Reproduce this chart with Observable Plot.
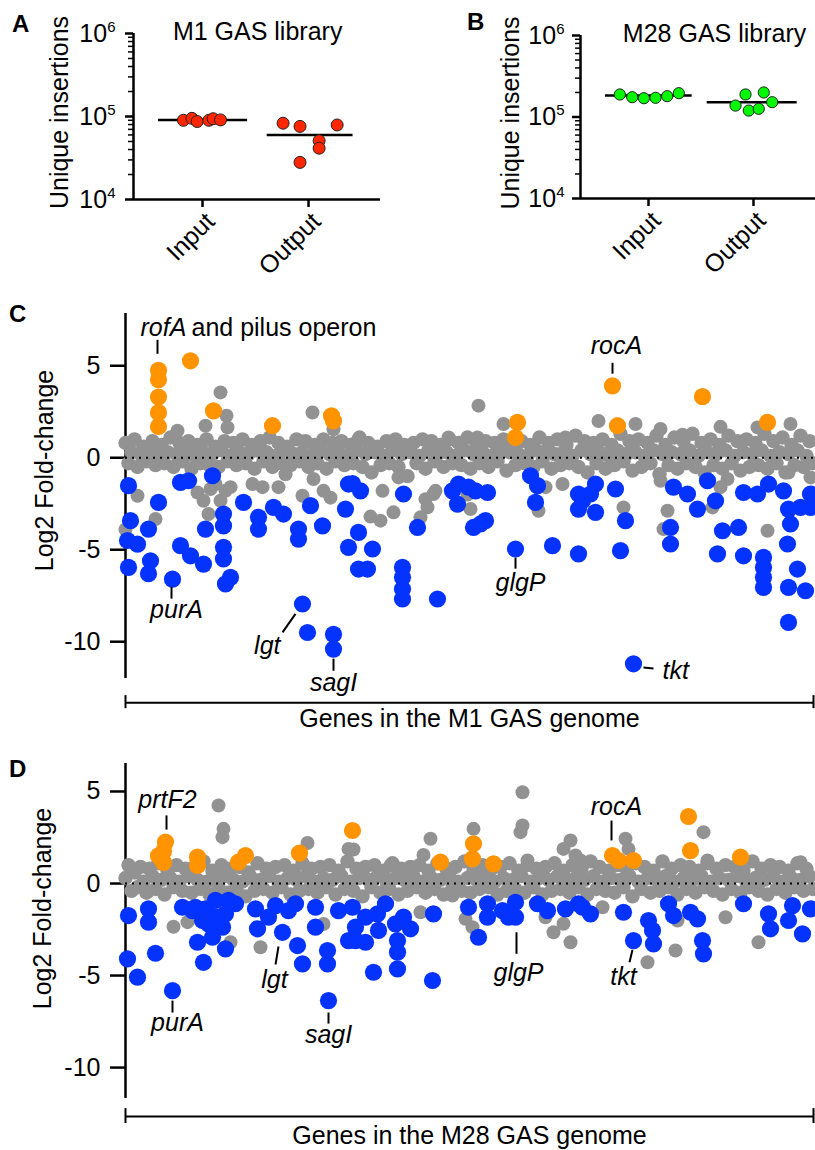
<!DOCTYPE html>
<html><head><meta charset="utf-8">
<script src="https://cdn.jsdelivr.net/npm/d3@7"></script>
<script src="https://cdn.jsdelivr.net/npm/@observablehq/plot@0.6"></script>
<style>
body{margin:0;background:#fff;}
#fig{position:relative;width:815px;height:1150px;overflow:hidden;font-family:"Liberation Sans",Arial,Helvetica,sans-serif;color:#000;}
.panel{position:absolute;}
.letter{position:absolute;font-weight:bold;font-size:24px;line-height:24px;}
</style></head><body><div id="fig"></div>
<script>
// ---------- Panels A & B: unique insertions ----------
const groups = ["Input", "Output"];
const majorTicks = [1e4, 1e5, 1e6];
const minorTicks = [2e4,3e4,4e4,5e4,6e4,7e4,8e4,9e4,2e5,3e5,4e5,5e5,6e5,7e5,8e5,9e5];

const m1Input = [9.0e4, 9.5e4, 8.7e4, 9.0e4, 9.4e4, 9.1e4];
const m1InputPos = [0.82, 0.90, 0.95, 1.06, 1.10, 1.17];
const m1Output = [8.3e4, 7.6e4, 7.9e4, 5.1e4, 4.15e4, 2.8e4];
const m1OutputPos = [1.76, 1.92, 2.27, 2.10, 2.10, 1.92];
const m1Medians = [9.1e4, 6.0e4];
const m1MedianSpan = [[0.585, 1.425], [1.61, 2.42]];

const m28Input = [1.89e5, 1.75e5, 1.70e5, 1.72e5, 1.80e5, 1.96e5];
const m28InputPos = [0.727, 0.845, 0.956, 1.067, 1.178, 1.289];
const m28Output = [1.38e5, 1.89e5, 1.20e5, 1.26e5, 2.0e5, 1.52e5];
const m28OutputPos = [1.829, 1.924, 1.955, 2.05, 2.098, 2.178];
const m28Medians = [1.84e5, 1.52e5];
const m28MedianSpan = [[0.59, 1.416], [1.559, 2.416]];

// ---------- Panel C: M1 genome log2 fold-change (gene position, value) ----------
const bandC = [
0.8,-0.3,0.3,1.0,-0.5,0.2,0.6,-0.2,0.4,0.9,
-0.4,0.1,0.7,-0.3,0.3,1.1,-0.5,0.2,0.8,-0.2,
0.4,0.9,-0.6,0.1,0.7,-0.3,0.3,1.0,-0.4,0.2,
0.6,-0.5,0.4,0.9,-0.2,0.1,0.8,-0.4,0.3,1.0,
-0.3,0.2,0.7,-0.6,0.4,0.9,-0.2,0.3,1.1,-0.5,
0.1,0.8,-0.3,0.4,0.6,-0.4,0.2,1.0,-0.2,0.3,
0.9,-0.5,0.1,0.7,-0.3,0.4,1.0,-0.6,0.2,0.8,
-0.2,0.3,0.9,-0.4,0.1,0.7,-0.3,0.4,1.1,-0.5,
0.2,0.8,-0.8,0.3,0.6,-0.4,0.1,0.9,-0.3,0.4,
1.0,-0.5,0.2,0.7,-1.0,0.3,0.8,-0.3,0.1,1.0,
-0.6,0.4,0.9,-0.2,0.2,0.7,-0.5,0.3,1.0,-0.3,
0.1,0.8,-0.4,0.4,1.1,-0.6,0.2,0.7,-0.3,0.3,
0.9,-0.5,0.1,0.8,-0.2,0.4,1.0,-0.7,0.3,0.6,
-0.4,0.2,0.9,-0.3,0.1,0.7,-0.5,0.4,1.1,-0.2,
0.3,0.8,-0.6,0.2,1.0,-0.4,0.3,0.7,-0.3,0.1,
1.2,-0.5,0.4,0.9,-0.8,0.2,0.8,-0.3,0.3,1.0,
-0.6,0.1,0.7,-0.4,0.4,1.3,-0.2,0.2,0.9,-0.7,
0.3,1.0,-0.5,0.1,0.8,-0.3,0.4,1.2,-0.9,0.2,
0.7,-0.4,0.3,1.1,-0.6,0.2,0.9,-0.3,0.4,1.3,
-0.5,0.1,0.8,-0.8,0.3,1.0,-0.4,0.2,0.7,-0.6,
0.4,1.2,-0.3,0.1,0.9,-0.7,0.3,1.0,-0.5,0.2,
0.8,-0.4,0.4,1.3,-0.6,0.1,0.9,-0.3,0.3,1.1,
-0.8,0.2,0.7,-0.4,0.4,1.2,-0.5,0.1,0.9,-0.3];
const grayC = [[95,3.55],[101,2.28],[80,1.74],[102,1.65],[187,2.46],[52,1.47],[208,1.55],[12,-2.07],[30,-3.33],[0,-3.9],[72,-1.89],[78,-2.34],[83,-3.06],[85,-1.7],[95,-2.34],[100,-1.8],[105,-1.6],[90,-1.43],[127,-1.43],[137,-1.6],[153,-1.6],[160,-0.9],[177,-2.07],[188,-1.16],[198,-1.8],[205,-2.17],
[353,2.83],[378,1.83],[323,1.1],[352,1.1],[232,0.92],[440,1.1],[245,-3.2],[255,-3.42],[268,-2.97],[257,-1.8],[273,-1.07],[300,-2.25],[302,-2.7],[295,-3.24],[310,-1.8],[308,-1.97],[345,-2.79],[342,-2.0],[413,-2.88],[437,-1.43],[420,-1.6],
[473,2.0],[510,1.83],[535,1.56],[595,1.68],[557,1.25],[665,1.83],[632,1.65],[498,-2.7],[642,-3.97],[542,-2.88],[538,-3.88],[587,-2.7],[535,-1.25],[595,-1.6],[602,-1.16],[663,-0.8],[685,-1.07]];
const orangeC = [[33,4.75],[33,4.25],[33,3.3],[33,2.45],[33,1.7],[65,5.27],[88,2.55],[147,1.74],[206,2.28],[208,2.0],[392,1.92],[390,1.1],[487,3.91],[492,1.74],[577,3.32],[642,1.92]];
const blueC = [[3,-1.52],[33,-2.43],[5,-3.42],[23,-3.88],[2,-4.5],[12,-4.7],[25,-5.6],[3,-5.96],[23,-6.3],[47,-6.6],[55,-1.34],[63,-1.25],[87,-0.98],[55,-4.78],[65,-5.33],[78,-5.78],[80,-3.88],[98,-3.06],[98,-3.7],[98,-4.87],[98,-5.5],[105,-6.5],[100,-6.86],[118,-2.43],[133,-3.24],[133,-3.88],[148,-2.7],[158,-3.06],[173,-3.88],[173,-4.42],[185,-2.6],[197,-3.7],[223,-1.43],[220,-2.79],[223,-4.87],[177,-7.95],[182,-9.5],[208,-9.6],[208,-10.4],
[227,-1.4],[235,-1.8],[233,-4.06],[247,-4.96],[233,-6.05],[242,-6.05],[278,-1.97],[292,-3.79],[277,-5.96],[277,-6.5],[277,-7.14],[277,-7.68],[312,-7.68],[333,-1.43],[327,-1.8],[343,-1.6],[350,-1.8],[362,-1.89],[332,-2.52],[348,-3.79],[360,-3.42],[355,-3.6],[390,-4.96],[405,-0.98],[412,-1.52],[410,-2.43],[427,-4.78],[453,-1.97],[453,-2.79],[453,-5.23],
[470,-1.43],[465,-1.97],[470,-2.97],[457,-2.34],[490,-1.7],[500,-3.42],[495,-5.05],[548,-1.6],[562,-1.97],[572,-2.79],[582,-1.25],[590,-2.34],[545,-3.79],[545,-4.69],[597,-3.97],[613,-3.79],[592,-5.23],[618,-5.33],[618,-1.89],[632,-1.97],[643,-1.43],[658,-1.8],[663,-2.79],[675,-2.7],[685,-1.97],[685,-2.7],[665,-3.6],[662,-4.69],[638,-5.42],[638,-5.96],[638,-6.5],[638,-7.05],[672,-6.05],[663,-7.05],[680,-7.23],[663,-8.95],[508,-11.2]];
const labelsC = [
  {text:"rofA", x:15, y:6.63, anchor:"start", italic:true},
  {text:"and pilus operon", x:66, y:6.63, anchor:"start", italic:false},
  {text:"purA", x:51, y:-8.7, anchor:"middle", italic:true},
  {text:"lgt", x:155, y:-10.65, anchor:"end", italic:true},
  {text:"sagI", x:208, y:-12.66, anchor:"middle", italic:true},
  {text:"glgP", x:395, y:-7.23, anchor:"middle", italic:true},
  {text:"rocA", x:491, y:5.65, anchor:"middle", italic:true},
  {text:"tkt", x:537, y:-12.01, anchor:"start", italic:true}];
const linksC = [[32,6.41,32,5.65],[46,-7.01,46,-7.66],[157,-9.49,170,-8.49],[208,-10.92,208,-11.58],[390,-5.43,390,-6.03],[487,5.16,487,4.57],[518,-11.4,528,-11.45]];

// ---------- Panel D: M28 genome ----------
const bandD = [
0.3,1.0,-0.4,0.6,-0.2,0.9,0.1,-0.5,0.8,0.4,
-0.3,1.1,0.2,-0.6,0.7,0.3,-0.2,1.0,0.1,-0.4,
0.8,0.4,-0.5,0.9,0.2,-0.3,1.2,0.1,-0.6,0.7,
0.3,-0.2,1.0,0.4,-0.5,0.8,0.2,-0.3,0.9,0.1,
-0.7,0.6,0.3,-0.4,1.1,0.2,-0.3,0.8,0.4,-0.5,
0.9,0.1,-0.2,1.0,0.3,-0.6,0.7,0.2,-0.4,1.1,
0.4,-0.3,0.8,0.1,-0.5,0.9,0.3,-0.2,1.0,0.2,
-0.6,0.7,0.4,-0.3,1.2,0.1,-0.4,0.8,0.3,-0.7,
0.9,0.2,-0.2,1.0,0.4,-0.5,0.7,0.1,-0.3,1.1,
0.3,-0.6,0.8,0.2,-0.4,0.9,0.4,-0.2,1.0,0.1,
-0.5,0.7,0.3,-0.3,1.1,0.2,-0.6,0.8,0.4,-0.2,
0.9,0.1,-0.4,1.2,0.3,-0.5,0.7,0.2,-0.3,1.0,
0.4,-0.2,0.8,0.1,-0.6,0.9,0.3,-0.4,1.1,0.2,
-0.3,0.7,0.4,-0.5,1.0,0.1,-0.2,0.8,0.3,-0.6,
0.9,0.2,-0.4,1.1,0.4,-0.3,0.7,0.1,-0.5,1.0,
0.3,-0.2,0.8,0.2,-0.6,1.2,0.4,-0.3,0.9,0.1,
-0.4,0.7,0.3,-0.5,1.0,0.2,-0.2,0.8,0.4,-0.7,
1.1,0.1,-0.3,0.9,0.3,-0.5,0.7,0.2,-0.4,1.2,
0.4,-0.2,0.8,0.1,-0.6,1.0,0.3,-0.3,0.9,0.2,
-0.5,0.7,0.4,-0.2,1.1,0.1,-0.4,0.8,0.3,-0.6,
1.0,0.2,-0.3,0.9,0.4,-0.5,0.7,0.1,-0.2,1.2,
0.3,-0.4,0.8,0.2,-0.6,1.0,0.4,-0.3,0.9,0.1,
-0.5,0.7,0.3,-0.2,1.1,0.2,-0.4,0.8,0.4,-0.3];
const grayD = [[93,4.24],[98,2.97],[97,2.52],[182,2.2],[223,1.88],[228,1.85],[135,-3.46],[48,-2.35],[62,-2.1],[105,-3.19],[198,-2.2],
[305,2.43],[298,1.55],[348,2.97],[397,4.96],[397,3.15],[395,2.79],[445,2.34],[438,1.88],[450,1.52],[402,1.25],[265,0.98],[327,-0.65],[347,-2.37],[340,-1.92],[428,-2.65],[445,-3.19],[420,-1.83],[438,-2.19],[295,-1.56],
[500,2.43],[503,1.88],[578,2.79],[582,1.25],[455,1.25],[675,1.16],[477,-1.29],[552,-2.01],[522,-4.28],[550,-3.64],[600,-1.83],[633,-3.19]];
const orangeD = [[40,2.25],[38,1.75],[33,1.5],[38,1.15],[72,1.43],[72,0.98],[120,1.52],[113,1.16],[174,1.65],[227,2.88],[315,1.16],[348,2.16],[347,1.34],[368,1.07],[487,1.52],[493,1.25],[508,1.25],[563,3.64],[565,1.79],[615,1.43]];
const blueD = [[3,-1.74],[23,-1.38],[23,-2.1],[2,-4.09],[12,-5.09],[30,-3.79],[47,-5.82],[57,-1.29],[70,-1.29],[67,-1.47],[80,-1.38],[90,-0.92],[90,-1.83],[103,-0.92],[110,-1.1],[100,-1.65],[83,-2.19],[77,-2.01],[97,-2.37],[72,-3.19],[87,-2.92],[78,-4.28],[100,-3.55],[130,-1.38],[132,-2.46],[143,-1.83],[150,-1.2],[157,-2.65],[163,-1.47],[170,-1.1],[172,-3.37],[177,-4.37],[190,-1.29],[190,-2.37],[202,-3.64],[202,-4.37],[203,-6.36],[213,-1.47],[223,-3.1],
[227,-1.29],[240,-1.83],[230,-2.37],[230,-3.1],[240,-3.19],[252,-1.65],[260,-1.1],[253,-2.55],[270,-2.19],[278,-1.83],[285,-2.46],[272,-3.1],[272,-3.73],[272,-4.64],[248,-4.82],[307,-5.27],[308,-1.65],[343,-1.29],[362,-1.1],[362,-1.83],[353,-2.92],[377,-1.47],[390,-1.02],[390,-1.83],[383,-1.83],[412,-1.1],[422,-1.47],[440,-1.38],[453,-1.1],
[465,-1.65],[457,-1.29],[498,-1.56],[508,-3.1],[523,-2.01],[527,-2.55],[528,-3.28],[543,-1.1],[548,-1.74],[565,-1.56],[572,-1.92],[577,-3.1],[578,-3.82],[618,-1.1],[643,-1.65],[645,-2.46],[663,-2.01],[667,-1.2],[677,-2.74],[685,-1.38]];
const labelsD = [
  {text:"prtF2", x:42, y:4.08, anchor:"middle", italic:true},
  {text:"purA", x:52, y:-7.99, anchor:"middle", italic:true},
  {text:"lgt", x:149, y:-5.65, anchor:"middle", italic:true},
  {text:"sagI", x:203, y:-8.64, anchor:"middle", italic:true},
  {text:"glgP", x:393, y:-5.27, anchor:"middle", italic:true},
  {text:"tkt", x:498, y:-5.54, anchor:"middle", italic:true},
  {text:"rocA", x:491, y:3.7, anchor:"middle", italic:true}];
const linksD = [[41,3.7,41,2.93],[47,-6.36,47,-7.01],[153,-3.42,150,-4.4],[203,-7.01,203,-7.61],[391,-2.65,391,-3.82],[507,-3.6,504,-4.28],[486,3.42,486,2.34]];

// ---------- colours ----------
const RED = "#ff2600", GREEN = "#00f900", GRAY = "#929292", ORANGE = "#ff9300", BLUE = "#0433ff";
const FONT = "'Liberation Sans', Arial, Helvetica, sans-serif";
const baseStyle = {fontFamily: FONT, fontSize: "25px", color: "#000", background: "transparent", overflow: "visible"};

const fig = document.getElementById("fig");
function place(node, left, top) {
  const d = document.createElement("div");
  d.className = "panel"; d.style.left = left + "px"; d.style.top = top + "px";
  d.appendChild(node); fig.appendChild(d);
}
function letter(t, left, top) {
  const d = document.createElement("div");
  d.className = "letter"; d.textContent = t; d.style.left = left + "px"; d.style.top = top + "px";
  fig.appendChild(d);
}
function superscripts(svg) {
  svg.querySelectorAll("text").forEach(t => {
    const m = /^10\^(\d)$/.exec(t.textContent);
    if (m) {
      t.textContent = "10";
      const s = document.createElementNS("http://www.w3.org/2000/svg", "tspan");
      s.setAttribute("dy", "-10"); s.setAttribute("font-size", "15");
      s.textContent = m[1]; t.appendChild(s);
    }
  });
}

function libraryPanel(o) {
  const pts = [
    ...o.input.map((v, i) => ({x: o.inputPos[i], y: v})),
    ...o.output.map((v, i) => ({x: o.outputPos[i], y: v}))];
  const meds = o.medians.map((v, i) => ({y: v, x1: o.span[i][0], x2: o.span[i][1]}));
  const svg = Plot.plot({
    width: o.width, height: 300,
    marginLeft: o.ml, marginRight: o.mr, marginTop: o.mt, marginBottom: o.mb,
    x: {type: "linear", domain: o.xDomain, axis: null},
    y: {type: "log", domain: [1e4, 1e6], axis: null},
    style: baseStyle,
    marks: [
      Plot.axisY({ticks: minorTicks, tickSize: 5, tickFormat: () => "", strokeWidth: 1.5, label: null}),
      Plot.axisY({ticks: majorTicks, tickSize: 8, tickPadding: o.pad, tickFormat: d => "10^" + Math.round(Math.log10(d)), strokeWidth: 2.5, label: null}),
      Plot.axisX({ticks: [1, 2], tickSize: 8, tickFormat: () => "", strokeWidth: 2.5, label: null}),
      Plot.ruleX([o.xDomain[0]], {y1: 1e4, y2: 1e6, strokeWidth: 2.5}),
      Plot.ruleY([1e4], {x1: o.xDomain[0], x2: o.xDomain[1], strokeWidth: 2.5}),
      Plot.ruleY(meds, {y: "y", x1: "x1", x2: "x2", strokeWidth: 2.5}),
      Plot.dot(pts, {x: "x", y: "y", r: o.r, fill: o.fill, stroke: "#222", strokeWidth: 1}),
      Plot.text([o.title], {x: o.titleX, y: 1e6, dy: 6, lineAnchor: "bottom"}),
      Plot.text(["Unique insertions"], {frameAnchor: "left", textAnchor: "middle", dx: o.labelDx, dy: -4, rotate: -90}),
      Plot.text(groups, {x: [1, 2], y: [1e4, 1e4], text: d => d, rotate: -45, textAnchor: "end", lineAnchor: "top", dy: 11, dx: 1})
    ]
  });
  superscripts(svg);
  return svg;
}

function genomePanel(o) {
  const marks = [
    Plot.ruleX([0], {y1: o.yDomain[0], y2: o.yDomain[1], strokeWidth: 2.5}),
    Plot.axisY({ticks: [5, 0, -5, -10], tickSize: 15, tickPadding: 10, tickFormat: d => String(d), strokeWidth: 2.5, label: null}),
    Plot.dot(o.band, {x: (d, i) => i * 3, y: d => d, r: 7.2, fill: GRAY}),
    Plot.dot(o.gray, {x: d => d[0], y: d => d[1], r: 7, fill: GRAY}),
    Plot.dot(o.orange, {x: d => d[0], y: d => d[1], r: 8.6, fill: ORANGE}),
    Plot.dot(o.blue, {x: d => d[0], y: d => d[1], r: 8.6, fill: BLUE}),
    Plot.ruleY([0], {x1: 0, x2: 688, strokeDasharray: "2,5", strokeWidth: 2}),
    Plot.link(o.links, {x1: d => d[0], y1: d => d[1], x2: d => d[2], y2: d => d[3], strokeWidth: 2}),
    Plot.ruleY([o.bracketY], {x1: 0, x2: 688, strokeWidth: 2}),
    Plot.ruleX([0, 688], {y1: o.bracketTick[0], y2: o.bracketTick[1], strokeWidth: 2}),
    Plot.text([o.genomeLabel], {x: 344, y: o.genomeLabelY, lineAnchor: "middle"}),
    Plot.text(["Log2 Fold-change"], {frameAnchor: "left", textAnchor: "middle", dx: o.yLabelDx, dy: o.yLabelDy, rotate: -90})
  ];
  o.labels.forEach(l => marks.push(Plot.text([l], {x: "x", y: "y", text: "text", textAnchor: l.anchor, lineAnchor: "bottom", fontStyle: l.italic ? "italic" : "normal"})));
  return Plot.plot({
    width: 815, height: o.height, marginLeft: 125, marginRight: 2, marginTop: o.mt, marginBottom: o.mb,
    x: {domain: [0, 688], axis: null},
    y: {domain: o.yDomain, axis: null},
    style: baseStyle,
    marks
  });
}

place(libraryPanel({input: m1Input, inputPos: m1InputPos, output: m1Output, outputPos: m1OutputPos,
  medians: m1Medians, span: m1MedianSpan, width: 400, ml: 133, mr: 20, mt: 33, mb: 101,
  xDomain: [0.349, 2.679], fill: RED, r: 6, title: "M1 GAS library", titleX: 1.52, labelDx: -74, pad: 10}), 0, 0);
place(libraryPanel({input: m28Input, inputPos: m28InputPos, output: m28Output, outputPos: m28OutputPos,
  medians: m28Medians, span: m28MedianSpan, width: 415, ml: 180, mr: 0, mt: 35, mb: 102,
  xDomain: [0.3524, 2.5905], fill: GREEN, r: 5.6, title: "M28 GAS library", titleX: 1.629, labelDx: -70, pad: 8}), 400, 0);

place(genomePanel({band: bandC, gray: grayC, orange: orangeC, blue: blueC, links: linksC, labels: labelsC,
  yDomain: [-12, 7.84], height: 440, mt: 13, mb: 62, bracketY: -13.32, bracketTick: [-12.93, -13.64],
  genomeLabel: "Genes in the M1 GAS genome", genomeLabelY: -14.2, yLabelDx: -81, yLabelDy: -25.5}), 0, 300);
place(genomePanel({band: bandD, gray: grayD, orange: orangeD, blue: blueD, links: linksD, labels: labelsD,
  yDomain: [-11.68, 6.52], height: 410, mt: 23, mb: 52, bracketY: -12.66, bracketTick: [-12.23, -13.04],
  genomeLabel: "Genes in the M28 GAS genome", genomeLabelY: -13.7, yLabelDx: -83, yLabelDy: -22.5}), 0, 740);

letter("A", 12, 12);
letter("B", 467, 10);
letter("C", 9, 302);
letter("D", 9, 757);
</script></body></html>
